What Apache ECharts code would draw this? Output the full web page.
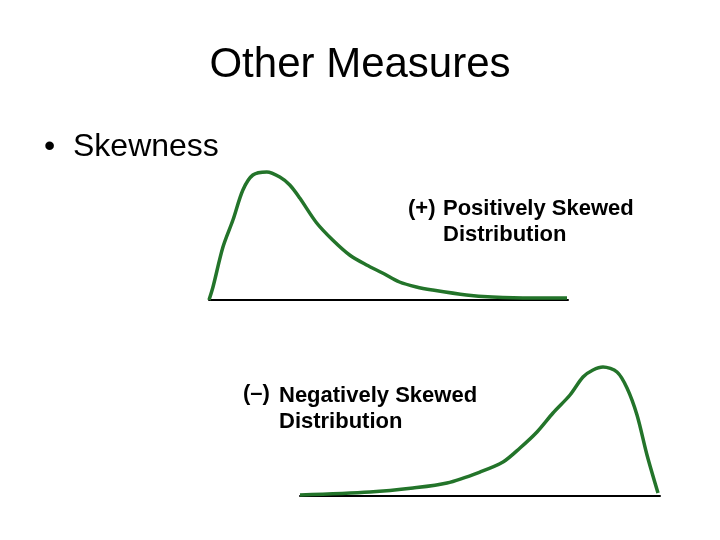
<!DOCTYPE html>
<html>
<head>
<meta charset="utf-8">
<script src="https://cdn.jsdelivr.net/npm/echarts@6/dist/echarts.min.js"></script>
<style>
html,body{margin:0;padding:0;background:#fff;}
#main{width:720px;height:540px;}
</style>
</head>
<body>
<div id="main"></div>
<script>
// positive skew curve: [position, height]
var posCurve = [[0,0],[0.4,1.3],[1.4,5.3],[2.4,8.0],[3.4,11.0],[4.4,12.5],[5.8,12.8],[7.1,12.3],[8.1,11.5],[9.1,10.2],[10.8,7.7],[12.4,6.0],[14.1,4.5],[15.8,3.5],[17.4,2.7],[19.1,1.8],[20.8,1.3],[22.4,1.0],[25.8,0.5],[28.4,0.3],[32.4,0.2],[35.9,0.2]];
// negative skew curve
var negCurve = [[0,0.1],[7,0.4],[11.3,0.8],[14.7,1.3],[18,2.4],[20.3,3.4],[22,4.8],[23.7,6.4],[25.3,8.3],[27,10.1],[28.3,11.9],[29.3,12.6],[30.3,12.9],[31.7,12.4],[32.7,10.8],[33.7,8.1],[34.7,4.1],[35.8,0.3]];
var titleText = 'Other Measures';
var bulletText = '\u2022  Skewness';
var posLabel = ['(+)', 'Positively Skewed', 'Distribution'];
var negLabel = ['(\u2013)', 'Negatively Skewed', 'Distribution'];

var green = '#23742a';
var chart = echarts.init(document.getElementById('main'));

function xAx(idx){
    return {gridIndex:idx,type:'value',min:0,max:36,show:true,
        axisLine:{show:true,lineStyle:{color:'#000',width:2}},
        axisTick:{show:false},axisLabel:{show:false},splitLine:{show:false}};
}
function yAx(idx){
    return {gridIndex:idx,type:'value',min:0,max:13,show:false,splitLine:{show:false}};
}
var lblFont = 'bold 22px "Liberation Sans", Arial, sans-serif';

chart.setOption({
    animation:false,
    backgroundColor:'#fff',
    grid:[
        {left:209,width:359,top:170,height:130},
        {left:300,width:360,top:366,height:130}
    ],
    xAxis:[xAx(0),xAx(1)],
    yAxis:[yAx(0),yAx(1)],
    series:[
        {type:'line',xAxisIndex:0,yAxisIndex:0,data:posCurve,smooth:0.3,symbol:'none',
            lineStyle:{color:green,width:3.5}},
        {type:'line',xAxisIndex:1,yAxisIndex:1,data:negCurve,smooth:0.3,symbol:'none',
            lineStyle:{color:green,width:3.5}}
    ],
    graphic:[
        {type:'text',left:'center',top:44,style:{text:titleText,fill:'#000',
            font:'42px "Liberation Sans", Arial, sans-serif'}},
        {type:'text',left:44,top:131,style:{text:bulletText,fill:'#000',
            font:'32px "Liberation Sans", Arial, sans-serif'}},
        {type:'text',left:408,top:198,style:{text:posLabel[0],fill:'#000',font:lblFont}},
        {type:'text',left:443,top:198,style:{text:posLabel[1],fill:'#000',font:lblFont}},
        {type:'text',left:443,top:224,style:{text:posLabel[2],fill:'#000',font:lblFont}},
        {type:'text',left:243,top:383,style:{text:negLabel[0],fill:'#000',font:lblFont}},
        {type:'text',left:279,top:385,style:{text:negLabel[1],fill:'#000',font:lblFont}},
        {type:'text',left:279,top:411,style:{text:negLabel[2],fill:'#000',font:lblFont}}
    ]
});
</script>
</body>
</html>
